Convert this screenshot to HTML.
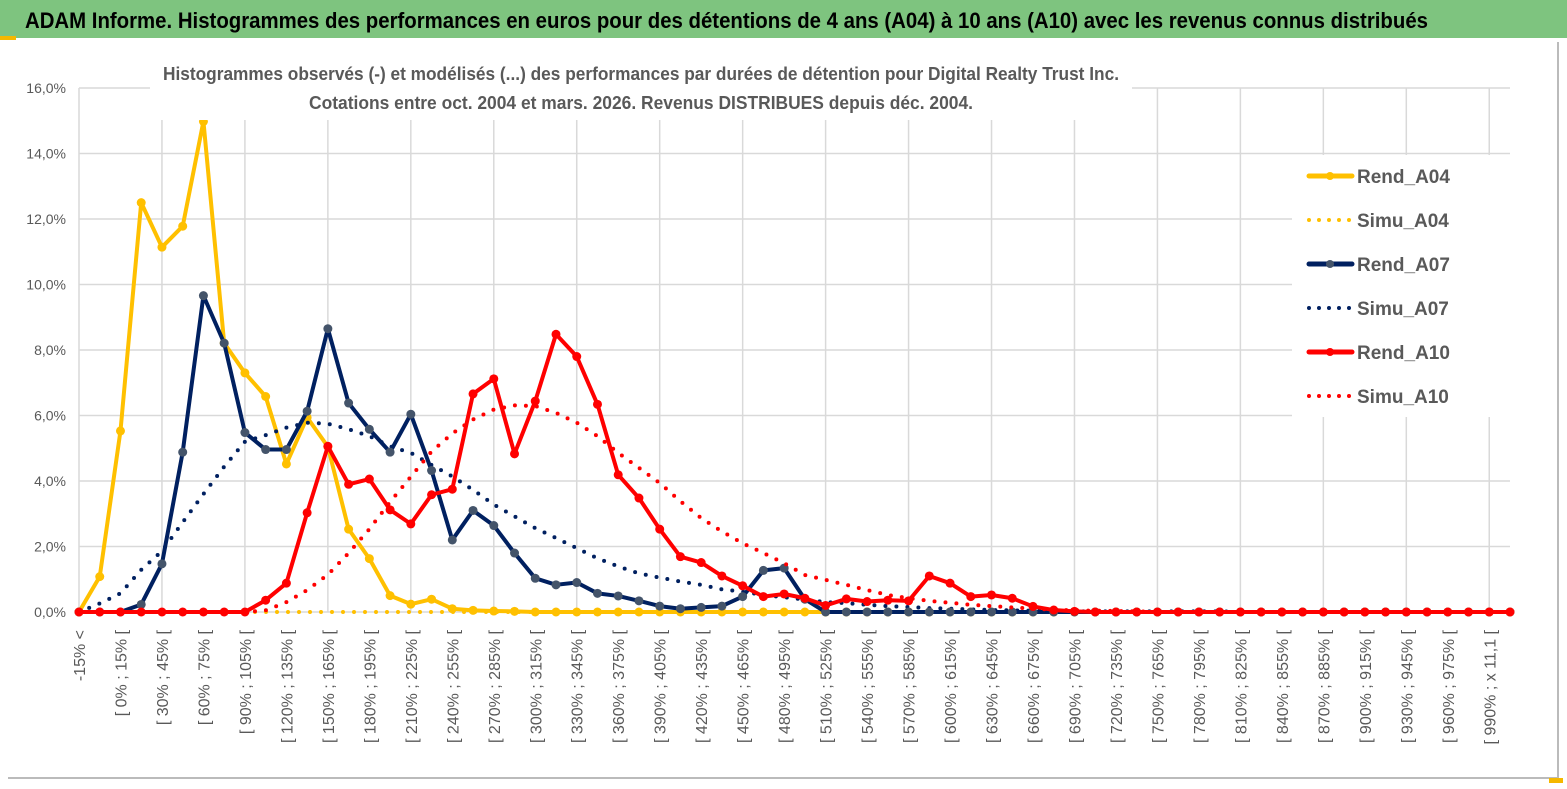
<!DOCTYPE html>
<html><head><meta charset="utf-8"><style>
body{margin:0;background:#fff;}
svg{display:block;font-family:"Liberation Sans Narrow","Liberation Sans",sans-serif;}
</style></head><body>
<svg id="chart" width="1567" height="789" viewBox="0 0 1567 789" xmlns="http://www.w3.org/2000/svg">
<rect x="0" y="0" width="1567" height="789" fill="#fff"/>
<rect x="0" y="0" width="1567" height="38" fill="#7ec47f"/>
<rect x="0" y="36" width="16" height="4" fill="#f5b800"/>
<text x="25" y="28" font-size="22" font-weight="bold" fill="#000" textLength="1403" lengthAdjust="spacingAndGlyphs">ADAM Informe. Histogrammes des performances en euros pour des détentions de 4 ans (A04) à 10 ans (A10) avec les revenus connus distribués</text>
<line x1="8" y1="778" x2="1558" y2="778" stroke="#bbb" stroke-width="2"/>
<line x1="1558" y1="42" x2="1558" y2="778" stroke="#bbb" stroke-width="2"/>
<rect x="1549" y="778" width="14" height="5" fill="#f5b800"/>
<g id="grid"></g>
<g id="yaxis"></g>
<g id="xaxis"></g>
<g id="series"></g>
<rect x="150" y="58" width="982" height="62" fill="#fff"/>
<text x="641" y="80" text-anchor="middle" font-size="18" font-weight="bold" fill="#595959" textLength="956" lengthAdjust="spacingAndGlyphs">Histogrammes observés (-) et modélisés (...) des performances par durées de détention pour Digital Realty Trust Inc.</text>
<text x="641" y="109" text-anchor="middle" font-size="18" font-weight="bold" fill="#595959" textLength="664" lengthAdjust="spacingAndGlyphs">Cotations entre oct. 2004 et mars. 2026. Revenus DISTRIBUES depuis déc. 2004.</text>
<g id="legend"></g>
</svg>
<script>
const NS="http://www.w3.org/2000/svg";
const categories=["-15% <","[ -15% ; 0% ["];
for(let v=0;v<=990;v+=15){categories.push(v===990?"[ 990% ; x 11,1 [":"[ "+v+"% ; "+(v+15)+"% [");}
categories.push("> x 11,1");
const rendA04=[0,1.08,5.53,12.5,11.14,11.78,14.98,8.21,7.3,6.58,4.52,5.94,5.05,2.53,1.63,0.5,0.24,0.39,0.1,0.05,0.03,0.02];
const simuA04=[0,0,0,0,0,0,0,0,0,0,0,0,0,0,0,0,0,0,0,0,0,0,0,0,0,0,0,0,0,0,0,0,0,0,0,0];
const rendA07=[0,0,0,0.23,1.47,4.88,9.66,8.21,5.48,4.96,4.96,6.13,8.65,6.38,5.58,4.88,6.04,4.32,2.2,3.1,2.64,1.8,1.03,0.83,0.9,0.57,0.49,0.34,0.18,0.1,0.14,0.18,0.47,1.27,1.34,0.39,0];
const simuA07=[0,0.26,0.57,1.29,1.86,2.74,3.6,4.44,5.2,5.4,5.63,5.78,5.75,5.58,5.37,5.06,4.86,4.49,4.14,3.73,3.28,2.92,2.56,2.26,1.95,1.64,1.39,1.18,1.05,0.93,0.83,0.69,0.62,0.52,0.45,0.38,0.3,0.27,0.22,0.18,0.15,0.12,0.1,0.08,0.06,0.05,0.04,0.03,0.02,0.02,0.02,0.02,0.02,0.02,0.02,0.02];
const rendA10=[0,0,0,0,0,0,0,0,0,0.36,0.88,3.03,5.06,3.9,4.06,3.12,2.69,3.58,3.75,6.66,7.12,4.83,6.44,8.48,7.8,6.34,4.19,3.48,2.53,1.69,1.51,1.1,0.8,0.47,0.55,0.42,0.2,0.4,0.32,0.36,0.34,1.1,0.88,0.47,0.52,0.42,0.17,0.06,0.02];
const simuA10=[0,0,0,0,0,0,0,0,0,0.05,0.3,0.67,1.14,1.8,2.53,3.36,4.13,4.9,5.45,5.88,6.18,6.31,6.29,6.08,5.78,5.37,4.86,4.4,3.94,3.38,2.87,2.46,2.1,1.8,1.49,1.13,0.98,0.83,0.67,0.52,0.42,0.34,0.28,0.22,0.18,0.14,0.1,0.07,0.05,0.04,0.03,0.02];
const yTicks=[0,2,4,6,8,10,12,14,16];

const N=categories.length;
const X0=79,X1=1510,Y0=612,YTOP=88;
const xs=i=>X0+i*(X1-X0)/(N-1);
const ys=v=>Y0-v*(Y0-YTOP)/16;
const full=a=>{const r=a.slice();while(r.length<N)r.push(0);return r;};
function mk(tag,attrs,parent){const e=document.createElementNS(NS,tag);for(const k in attrs)e.setAttribute(k,attrs[k]);parent.appendChild(e);return e;}
const grid=document.getElementById('grid'),yax=document.getElementById('yaxis'),xax=document.getElementById('xaxis'),ser=document.getElementById('series'),leg=document.getElementById('legend');
yTicks.forEach(t=>{
  const l=mk('line',{x1:X0,x2:X1,y1:ys(t),y2:ys(t),stroke:'#d9d9d9','stroke-width':1.5},grid);
  
  
  const tx=mk('text',{x:66,y:ys(t)+5,'text-anchor':'end','font-size':14,fill:'#595959'},yax);
  tx.textContent=t.toFixed(1).replace('.',',')+'%';
  
  
});
for(let i=0;i<N;i+=4){
  const l=mk('line',{x1:xs(i),x2:xs(i),y1:YTOP,y2:Y0,stroke:'#d9d9d9','stroke-width':1.5},grid);
  
  
}
for(let i=0;i<N-1;i+=2){
  const tx=mk('text',{transform:`translate(${xs(i)+6},630) rotate(-90)`,'text-anchor':'end','font-size':16,fill:'#595959','font-family':'Liberation Sans, sans-serif'},xax);
  tx.textContent=categories[i];
  
  
}
function line(arr,color,dotted,marker,name){
  const a=full(arr);
  const p=mk('polyline',{points:a.map((v,i)=>xs(i)+','+ys(v)).join(' '),fill:'none',stroke:color,'stroke-width':4,'stroke-linejoin':'round','stroke-linecap':'round'},ser);
  if(dotted){p.setAttribute('stroke-dasharray','0 11');}
  
  
  if(marker){a.forEach((v,i)=>{const c=mk('circle',{cx:xs(i),cy:ys(v),r:4.5,fill:marker},ser);
    
    });}
}
line(simuA04,'#ffc000',true,null,'simu-a04-line');
line(rendA04,'#ffc000',false,'#ffc000','rend-a04-line');
line(simuA07,'#002060',true,null,'simu-a07-line');
line(rendA07,'#002060',false,'#44546a','rend-a07-line');
line(simuA10,'#ff0000',true,null,'simu-a10-line');
line(rendA10,'#ff0000',false,'#ff0000','rend-a10-line');
mk('rect',{x:1292,y:155,width:218,height:262,fill:'#fff'},leg);
const items=[["Rend_A04","#ffc000",false,"#ffc000"],["Simu_A04","#ffc000",true,null],["Rend_A07","#002060",false,"#44546a"],["Simu_A07","#002060",true,null],["Rend_A10","#ff0000",false,"#ff0000"],["Simu_A10","#ff0000",true,null]];
items.forEach((it,k)=>{
  const y=176+k*44;
  const g=mk('g',{},leg);
  
  
  const l=mk('line',{x1:1309,x2:1352,y1:y,y2:y,stroke:it[1],'stroke-width':it[2]?4:5,'stroke-linecap':'round'},g);
  if(it[2])l.setAttribute('stroke-dasharray','0 10');
  if(it[3])mk('circle',{cx:1330,cy:y,r:4,fill:it[3]},g);
  const t=mk('text',{x:1357,y:y+7,'font-size':19,'font-weight':'bold',fill:'#595959'},g);
  t.textContent=it[0];
});
</script>
</body></html>
